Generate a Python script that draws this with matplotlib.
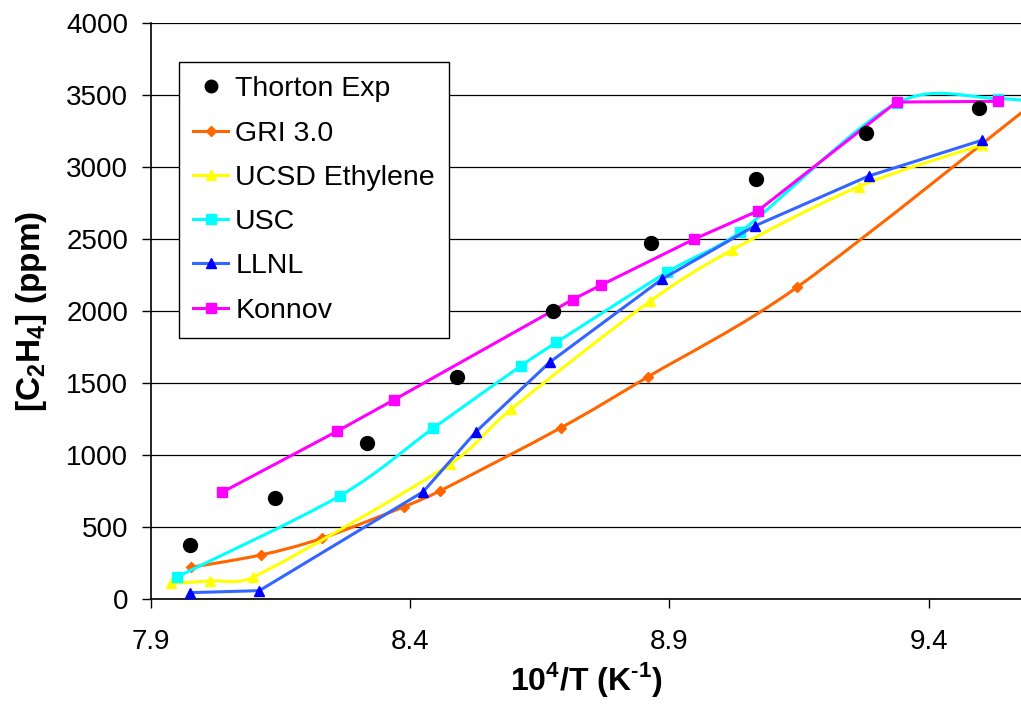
import numpy as np
import matplotlib
matplotlib.use("Agg")
import matplotlib.pyplot as plt
from matplotlib.path import Path
from matplotlib.patches import PathPatch
from matplotlib.lines import Line2D

plt.rcParams['font.family'] = ['Liberation Sans', 'DejaVu Sans']
plt.rcParams['mathtext.fontset'] = 'custom'
plt.rcParams['mathtext.rm'] = 'Liberation Sans'
plt.rcParams['mathtext.bf'] = 'Liberation Sans:bold'

# data (x = 10^4/T, y = ppm)
exp_x = [7.975, 8.139, 8.317, 8.491, 8.676, 8.865, 9.066, 9.280, 9.497]
exp_y = [375, 701, 1083, 1542, 2000, 2472, 2917, 3236, 3410]

gri_x = [7.977, 8.112, 8.229, 8.388, 8.458, 8.691, 8.859, 9.146, 9.65]
gri_y = [220, 306, 421, 641, 752, 1190, 1544, 2165, 3580]

ucsd_x = [7.938, 8.014, 8.097, 8.476, 8.594, 8.863, 9.021, 9.265, 9.502]
ucsd_y = [109, 125, 151, 935, 1317, 2069, 2424, 2863, 3153]

usc_x = [7.950, 8.265, 8.444, 8.614, 8.682, 8.896, 9.036, 9.338, 9.534, 9.73]
usc_y = [153, 718, 1185, 1620, 1782, 2271, 2549, 3442, 3475, 3400]

llnl_x = [7.975, 8.109, 8.425, 8.527, 8.669, 8.885, 9.064, 9.284, 9.502]
llnl_y = [44, 58, 745, 1162, 1644, 2220, 2590, 2937, 3185]

konnov_x = [8.037, 8.259, 8.368, 8.713, 8.767, 8.947, 9.070, 9.338, 9.534]
konnov_y = [741, 1165, 1382, 2079, 2178, 2498, 2694, 3451, 3456]

XMIN, XMAX = 7.9, 9.578
YMIN, YMAX = 0, 4000


def smooth_path(x, y, sx, sy, cap=0.4):
    # smoothed line like Excel: cubic bezier through the points,
    # control arms limited to a share of the segment (in pixels)
    p = np.column_stack([x, y]).astype(float)
    s = np.array([sx, sy])
    n = len(p)
    verts = [p[0]]
    codes = [Path.MOVETO]

    def arm(v, seg):
        lv = np.hypot(*(v * s))
        ls = np.hypot(*(seg * s))
        if lv > cap * ls:
            v = v * cap * ls / lv
        return v

    for i in range(n - 1):
        prev = p[i - 1] if i > 0 else p[i]
        nxt = p[i + 2] if i + 2 < n else p[i + 1]
        seg = p[i + 1] - p[i]
        c1 = p[i] + arm((p[i + 1] - prev) / 6, seg)
        c2 = p[i + 1] - arm((nxt - p[i]) / 6, seg)
        verts += [c1, c2, p[i + 1]]
        codes += [Path.CURVE4] * 3
    return Path(verts, codes)


fig = plt.figure(figsize=(10.21, 7.05), dpi=100)
ax = fig.add_axes([151 / 1021, 1 - 599 / 705, 870 / 1021, 576 / 705])
sx = 870 / (XMAX - XMIN)
sy = 576 / (YMAX - YMIN)

lw = 2.2
# GRI 3.0
ax.add_patch(PathPatch(smooth_path(gri_x, gri_y, sx, sy), fill=False, ec='#FF6600', lw=lw, zorder=3))
ax.plot(gri_x, gri_y, ls='none', marker='D', ms=5, color='#FF6600', zorder=3)
# UCSD
ax.add_patch(PathPatch(smooth_path(ucsd_x, ucsd_y, sx, sy), fill=False, ec='#FFFF00', lw=lw, zorder=4))
ax.plot(ucsd_x, ucsd_y, ls='none', marker='^', ms=7, color='#FFFF00', zorder=4)
# USC
ax.add_patch(PathPatch(smooth_path(usc_x, usc_y, sx, sy), fill=False, ec='#00FFFF', lw=lw, zorder=5))
ax.plot(usc_x, usc_y, ls='none', marker='s', ms=7, color='#00FFFF', zorder=5)
# LLNL
ax.plot(llnl_x, llnl_y, color='#3366FF', lw=lw, marker='^', ms=7,
        mfc='#0000FF', mec='#0000FF', zorder=6)
# Konnov
ax.plot(konnov_x, konnov_y, color='#FF00FF', lw=lw, marker='s', ms=7, zorder=7)
# experiment
ax.plot(exp_x, exp_y, ls='none', marker='o', ms=10, color='black', zorder=8)

ax.set_xlim(XMIN, XMAX)
ax.set_ylim(YMIN, YMAX)
ax.set_xticks([7.9, 8.4, 8.9, 9.4])
ax.set_xticklabels(['7.9', '8.4', '8.9', '9.4'])
ax.set_yticks(np.arange(0, 4001, 500))
ax.yaxis.grid(True, color='black', lw=0.9)
ax.set_axisbelow(True)
for s in ['top', 'right']:
    ax.spines[s].set_visible(False)
ax.spines['left'].set_linewidth(1.2)
ax.spines['bottom'].set_linewidth(1.2)
ax.tick_params(axis='x', length=6.5, width=1, labelsize=20, pad=15)
ax.tick_params(axis='y', length=6.5, width=1, labelsize=20, pad=10)

ax.set_xlabel('10$^\\mathbf{4}$/T (K$^\\mathbf{\u20101}$)', fontsize=23, fontweight='bold', labelpad=4)
ax.set_ylabel('[C$_\\mathbf{2}$H$_\\mathbf{4}$] (ppm)', fontsize=24, fontweight='bold', labelpad=12)

handles = [
    Line2D([], [], ls='none', marker='o', ms=9, color='black'),
    Line2D([], [], color='#FF6600', lw=lw, marker='D', ms=5),
    Line2D([], [], color='#FFFF00', lw=lw, marker='^', ms=7),
    Line2D([], [], color='#00FFFF', lw=lw, marker='s', ms=7),
    Line2D([], [], color='#3366FF', lw=lw, marker='^', ms=7, mfc='#0000FF', mec='#0000FF'),
    Line2D([], [], color='#FF00FF', lw=lw, marker='s', ms=7),
]
labels = ['Thorton Exp', 'GRI 3.0', 'UCSD Ethylene', 'USC', 'LLNL', 'Konnov']
leg = ax.legend(handles, labels, loc='upper left', bbox_to_anchor=(0.032, 0.932),
                borderaxespad=0, fontsize=20.5, frameon=True, fancybox=False,
                edgecolor='black', framealpha=1, handlelength=1.23, handletextpad=0.25,
                labelspacing=0.64, borderpad=0.5)
leg.get_frame().set_linewidth(1)
leg.set_zorder(10)

fig.savefig('out.png', dpi=100)
